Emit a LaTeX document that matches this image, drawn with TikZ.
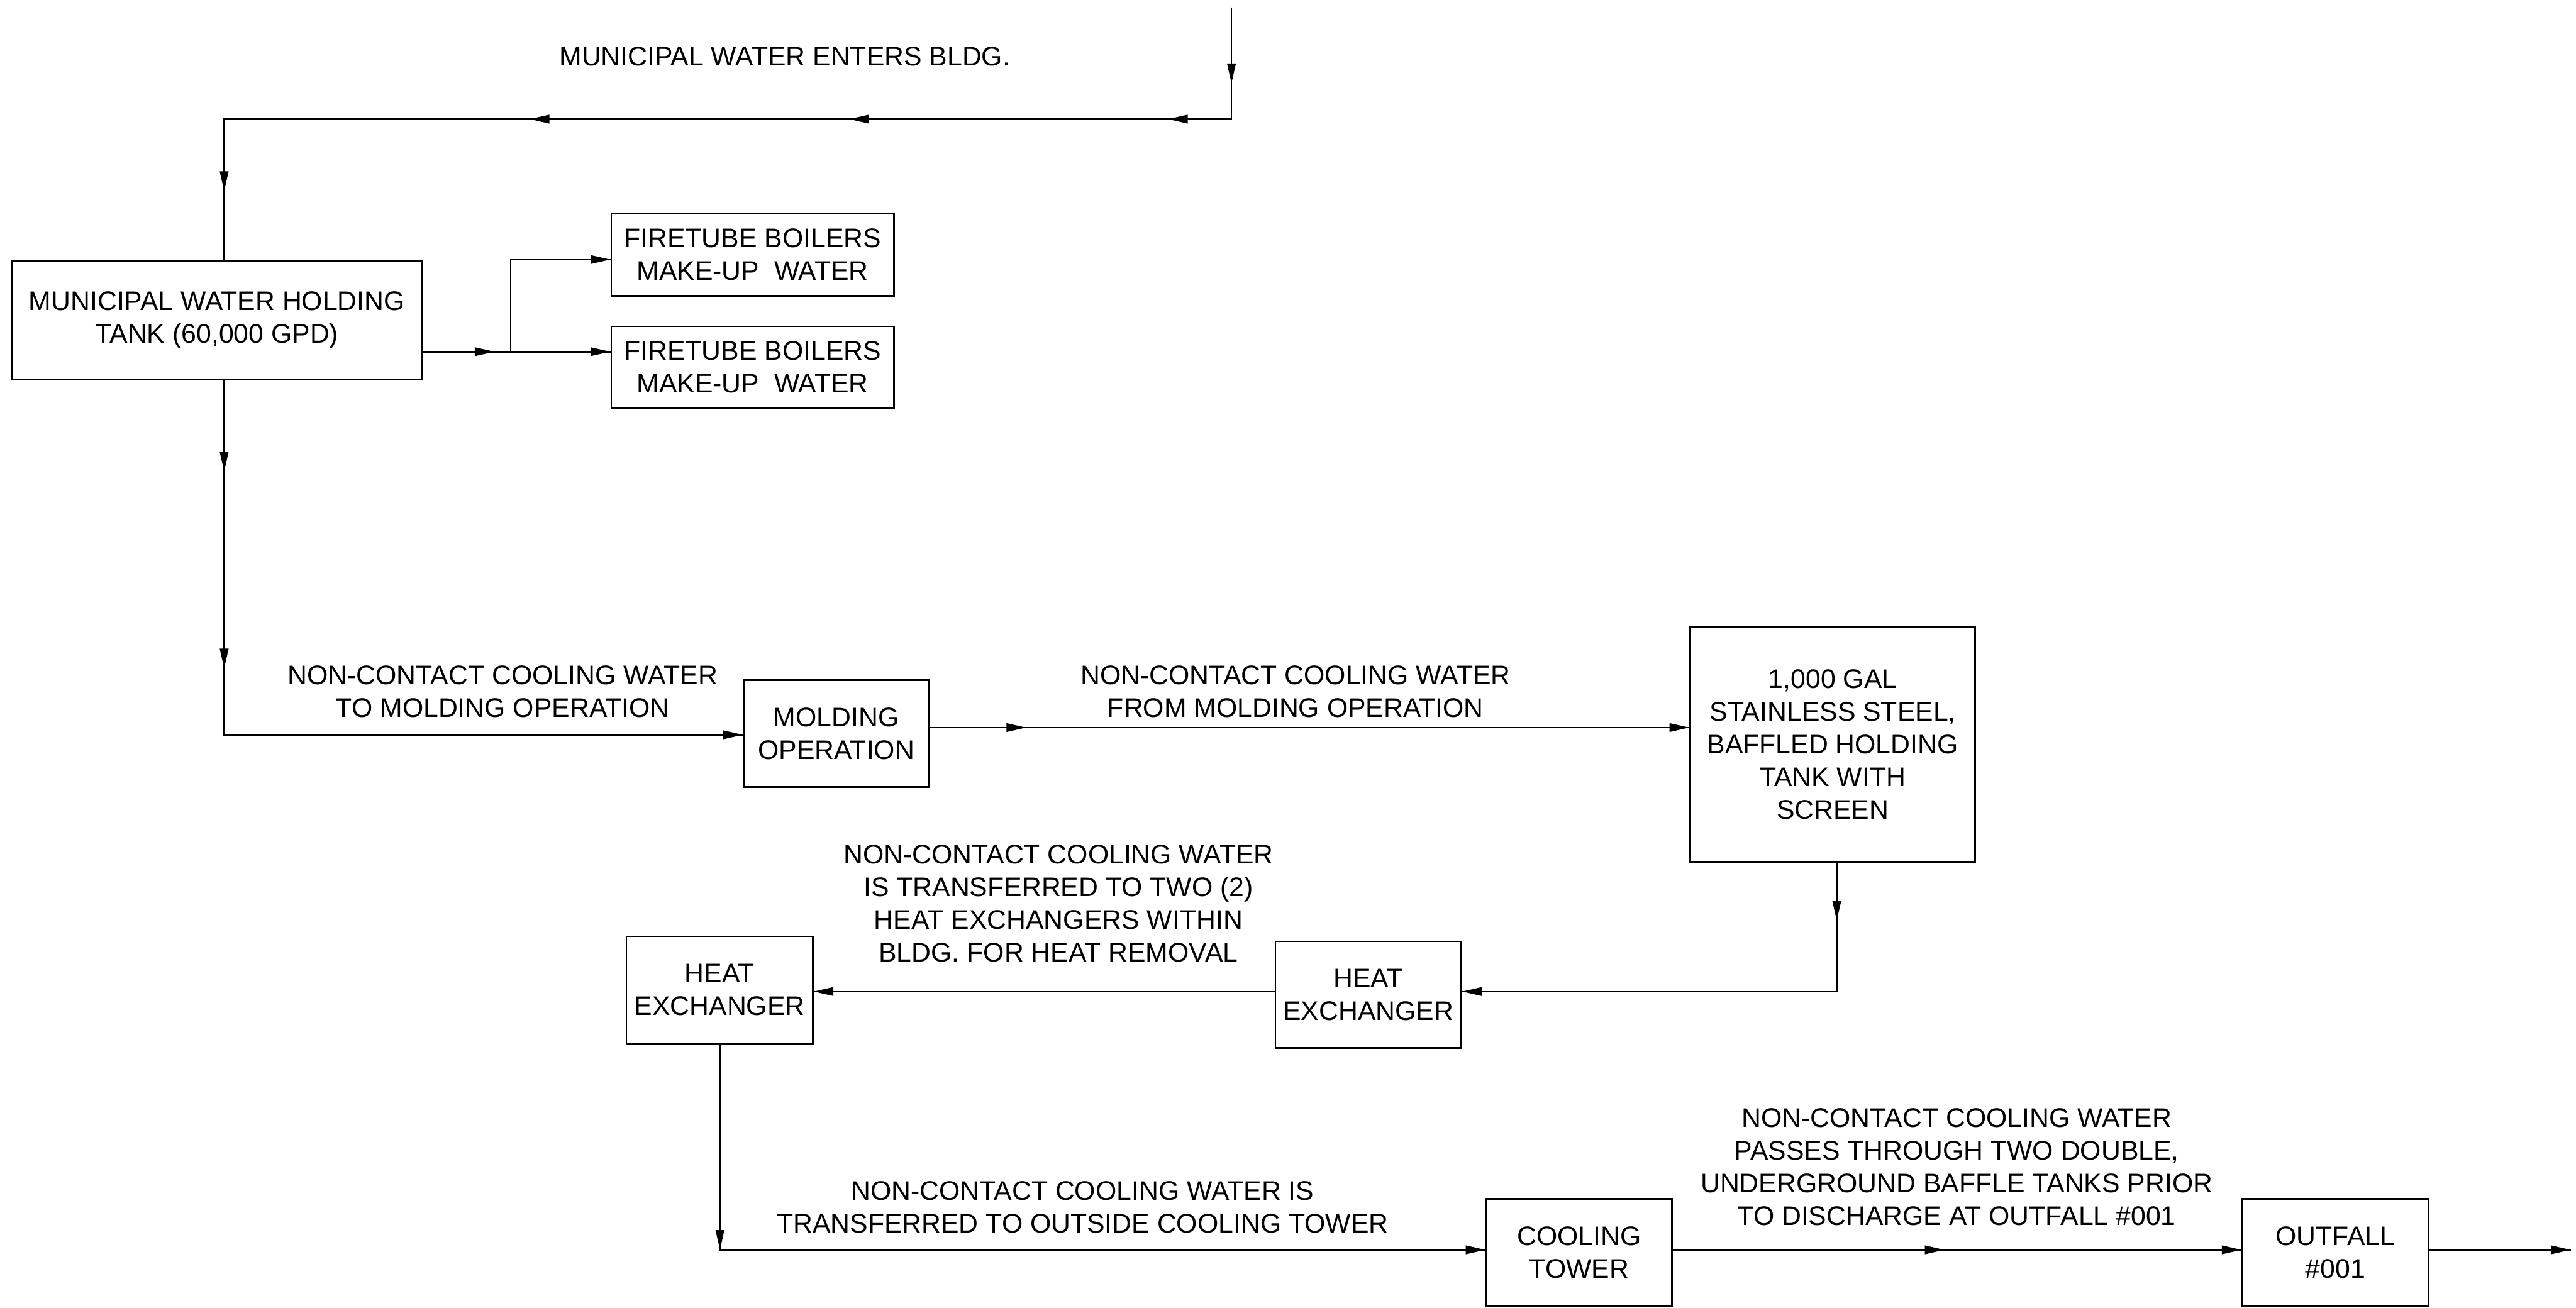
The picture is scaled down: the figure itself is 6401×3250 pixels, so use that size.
\documentclass[tikz,border=0pt]{standalone}
\usepackage{fontspec}
\setmainfont{Liberation Sans}
\usetikzlibrary{arrows.meta}
\newcommand\lbltext{\fontsize{19pt}{23.2pt}\selectfont}
\tikzset{
  box/.style={draw, line width=1.2pt, inner sep=0pt, align=center, font=\lbltext},
  lab/.style={inner sep=0pt, align=center, font=\lbltext},
  pipe/.style={draw, line width=1.1pt},
  flow/.style={pipe, -{Triangle[length=14pt,width=6pt]}},
}
\begin{document}
\begin{tikzpicture}[x=0.01cm, y=-0.01cm]
\useasboundingbox (0,0) rectangle (6401,3250);

% boxes
\node[box, minimum width=10.20cm, minimum height=2.94cm] (tank) at (539,796) {MUNICIPAL WATER HOLDING\\TANK (60,000 GPD)};
\node[box, minimum width=7.02cm, minimum height=2.04cm] (fb1) at (1870,633) {FIRETUBE BOILERS\\MAKE-UP~ WATER};
\node[box, minimum width=7.02cm, minimum height=2.02cm] (fb2) at (1870,912) {FIRETUBE BOILERS\\MAKE-UP~ WATER};
\node[box, minimum width=4.59cm, minimum height=2.65cm] (mold) at (2078,1823) {MOLDING\\OPERATION};
\node[box, minimum width=7.08cm, minimum height=5.83cm] (bt) at (4554,1850) {1,000 GAL\\STAINLESS STEEL,\\BAFFLED HOLDING\\TANK WITH\\SCREEN};
\node[box, minimum width=4.61cm, minimum height=2.65cm] (hx1) at (3400,2472) {HEAT\\EXCHANGER};
\node[box, minimum width=4.63cm, minimum height=2.66cm] (hx2) at (1788,2460) {HEAT\\EXCHANGER};
\node[box, minimum width=4.61cm, minimum height=2.65cm] (ct) at (3924,3112) {COOLING\\TOWER};
\node[box, minimum width=4.61cm, minimum height=2.65cm] (of) at (5803,3112) {OUTFALL\\\#001};

% labels
\node[lab] (l1) at (1950,140) {MUNICIPAL WATER ENTERS BLDG.};
\node[lab] (l2) at (1249,1719) {NON-CONTACT COOLING WATER\\TO MOLDING OPERATION};
\node[lab] (l3) at (3219,1719) {NON-CONTACT COOLING WATER\\FROM MOLDING OPERATION};
\node[lab] (l4) at (2630,2245) {NON-CONTACT COOLING WATER\\IS TRANSFERRED TO TWO (2)\\HEAT EXCHANGERS WITHIN\\BLDG. FOR HEAT REMOVAL};
\node[lab] (l5) at (2690,3000) {NON-CONTACT COOLING WATER IS\\TRANSFERRED TO OUTSIDE COOLING TOWER};
\node[lab] (l6) at (4862,2900) {NON-CONTACT COOLING WATER\\PASSES THROUGH TWO DOUBLE,\\UNDERGROUND BAFFLE TANKS PRIOR\\TO DISCHARGE AT OUTFALL \#001};

% coordinates
\coordinate (in) at (3060,18);
\coordinate (a1) at (3060,207);
\coordinate (c1) at (3060,296);
\coordinate (a2) at (2902,296);
\coordinate (a3) at (2110,296);
\coordinate (a4) at (1316,296);
\coordinate (c2) at (557,296);
\coordinate (a5) at (557,475);
\coordinate (a6) at (1229,874);
\coordinate (j1) at (1269,874);
\coordinate (j2) at (1269,645);
\coordinate (a7) at (557,1172);
\coordinate (a8) at (557,1661);
\coordinate (c3) at (557,1826);
\coordinate (a9) at (2550,1808);
\coordinate (a10) at (4564,2288);
\coordinate (c4) at (4564,2464);
\coordinate (c5) at (1789,3106);
\coordinate (a11) at (4832,3106);
\coordinate (out) at (6388,3106);

% continuous pipes
\draw[pipe] (in) -- (c1) -- (c2) -- (c2 |- tank.north);
\draw[pipe] (tank.east |- j1) -- (j1) -- (j2) -- (fb1.west |- j2);
\draw[pipe] (j1) -- (fb2.west |- j1);
\draw[pipe] (c2 |- tank.south) -- (c3) -- (mold.west |- c3);
\draw[pipe] (mold.east |- a9) -- (bt.west |- a9);
\draw[pipe] (c4 |- bt.south) -- (c4) -- (hx1.east |- c4);
\draw[pipe] (hx1.west |- c4) -- (hx2.east |- c4);
\draw[pipe] (c5 |- hx2.south) -- (c5) -- (ct.west |- c5);
\draw[pipe] (ct.east |- c5) -- (of.west |- c5);
\draw[pipe] (of.east |- c5) -- (out);

% arrowheads along the flow
\draw[flow] (in) -- (a1);
\draw[flow] (c1) -- (a2);
\draw[flow] (a2) -- (a3);
\draw[flow] (a3) -- (a4);
\draw[flow] (c2) -- (a5);
\draw[flow] (tank.east |- j1) -- (a6);
\draw[flow] (j1) -- (fb2.west |- j1);
\draw[flow] (j2) -- (fb1.west |- j2);
\draw[flow] (c2 |- tank.south) -- (a7);
\draw[flow] (a7) -- (a8);
\draw[flow] (c3) -- (mold.west |- c3);
\draw[flow] (mold.east |- a9) -- (a9);
\draw[flow] (a9) -- (bt.west |- a9);
\draw[flow] (a10 |- bt.south) -- (a10);
\draw[flow] (c4) -- (hx1.east |- c4);
\draw[flow] (hx1.west |- c4) -- (hx2.east |- c4);
\draw[flow] (c5 |- hx2.south) -- (c5);
\draw[flow] (c5) -- (ct.west |- c5);
\draw[flow] (ct.east |- c5) -- (a11);
\draw[flow] (a11) -- (of.west |- c5);
\draw[flow] (of.east |- c5) -- (out);
\end{tikzpicture}
\end{document}
